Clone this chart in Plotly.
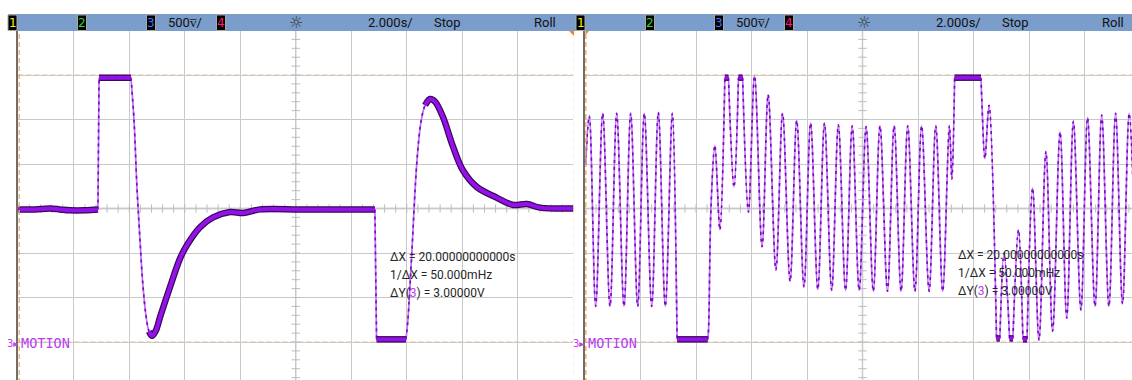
import plotly.graph_objects as go
import numpy as np

W, H = 1132, 380
TOP = 31

# ---------------- data (read from the screen) ----------------
# left capture: channel 3, 0.5 V/div, 2 s/div
left_t = [0.00, 0.60, 1.14, 1.50, 1.86, 2.40, 2.87, 2.91, 4.06, 4.17, 4.28, 4.39, 4.49, 4.60,
          4.71, 4.82, 4.96, 5.11, 5.47, 5.83, 6.08, 6.55, 7.02, 7.63, 8.10, 8.71, 10.15, 11.59,
          12.85, 12.91, 13.97, 14.04, 14.18, 14.36, 14.51, 14.66, 14.84, 15.02, 15.30, 15.66,
          16.02, 16.53, 17.25, 17.83, 18.33, 18.80, 20.00]
left_v = [1.49, 1.49, 1.50, 1.49, 1.48, 1.48, 1.49, 2.97, 2.97, 2.49, 1.71, 1.12, 0.64, 0.30,
          0.12, 0.07, 0.13, 0.28, 0.62, 0.94, 1.09, 1.29, 1.40, 1.46, 1.45, 1.49, 1.49, 1.49,
          1.49, 0.03, 0.03, 0.25, 1.00, 2.01, 2.47, 2.66, 2.73, 2.70, 2.53, 2.20,
          1.93, 1.74, 1.62, 1.54, 1.55, 1.51, 1.50]

# right capture
right_t = [0.02, 0.155, 0.386, 0.638, 0.901, 1.142, 1.405, 1.647, 1.899, 2.137, 2.404, 2.642,
           2.894, 3.146, 3.30, 3.32, 4.42, 4.45, 4.54, 4.68, 4.86, 5.04, 5.17, 5.37, 5.53, 5.68,
           5.89, 6.11, 6.38, 6.60, 6.88, 7.12, 7.39, 7.63, 7.89, 8.13, 8.39, 8.63, 8.89, 9.13,
           9.39, 9.63, 9.88, 10.13, 10.39, 10.63, 10.90, 11.14, 11.39, 11.63, 11.89, 12.13,
           12.40, 12.64, 12.89, 13.13, 13.22, 13.32, 14.27, 14.30, 14.41, 14.56, 14.83, 14.95,
           15.10, 15.30, 15.42, 15.62, 15.78, 15.93, 16.13, 16.36, 16.61, 16.85, 17.12, 17.36,
           17.60, 17.87, 18.11, 18.38, 18.62, 18.88, 19.12, 19.37, 19.61, 19.87]
right_v = [1.99, 2.54, 0.40, 2.57, 0.40, 2.57, 0.40, 2.57, 0.40, 2.57, 0.40, 2.58,
           0.40, 2.57, 0.47, 0.03, 0.03, 0.13, 1.52, 2.21, 1.26, 2.97, 2.97, 1.74, 2.97, 2.97,
           1.46, 2.99, 1.07, 2.78, 0.81, 2.57, 0.68, 2.49, 0.62, 2.46, 0.59, 2.46, 0.58, 2.44,
           0.58, 2.43, 0.58, 2.42, 0.57, 2.43, 0.57, 2.43, 0.57, 2.43, 0.57, 2.43,
           0.57, 2.43, 0.57, 2.43, 1.83, 2.97, 2.97, 2.72, 2.06, 2.66, 0.04, 0.04,
           1.00, 0.04, 0.04, 1.26, 0.03, 0.03, 1.73, 0.02, 2.14, 0.12, 2.36, 0.27,
           2.48, 0.36, 2.52, 0.40, 2.55, 0.40, 2.57, 0.43, 2.57, 0.43]

time_per_div = 2.0
volt_per_div = 0.5
cursor_t = [0.0, 20.0]
cursor_v = [0.0, 3.0]
trace_center_v = 1.5

channel_labels = ["1", "2", "3", "4"]
channel_colors = ["#f4f400", "#2fd82f", "#3a78ff", "#ff1a7a"]
header_scale = "500v\u0305/"
header_time = "2.000s/"
header_state = "Stop"
header_mode = "Roll"
channel_name = "MOTION"
meas_lines = ["\u0394X = 20.00000000000s", "1/\u0394X = 50.000mHz",
              "\u0394Y(<span style='color:#c040f0'>3</span>) = 3.00000V"]

# ---------------- geometry helpers ----------------
def px(x):
    return x / W

def py(y):
    return (H - y) / (H - TOP)

L0, L1 = 18.3, 573.3
R0 = 585.0
PXS = (L1 - L0) / 20.0          # px per second
PXV = 89.0                       # px per volt
y_lo = (342 - H) / PXV
y_hi = (342 - TOP) / PXV
right_span = (W - R0) / PXS


def smooth_runs(t, v):
    """Split the trace at vertical jumps and flat (clipped) stretches so the
    spline only smooths the continuous parts."""
    n = len(t)
    brk = {0, n - 1}
    for i in range(n - 1):
        dt = t[i + 1] - t[i]
        s = abs(v[i + 1] - v[i]) / dt
        if s > 20 or (s < 0.1 and dt > 0.1):
            brk.add(i)
            brk.add(i + 1)
    b = sorted(brk)
    xs, ys = [], []
    for k in range(len(b) - 1):
        if xs:
            xs.append(None)
            ys.append(None)
        xs.extend(t[b[k]:b[k + 1] + 1])
        ys.extend(v[b[k]:b[k + 1] + 1])
    return xs, ys


def slow_segments(t, v, limit=1.2):
    xs, ys = [], []
    last = None
    for i in range(len(t) - 1):
        slope = abs(v[i + 1] - v[i]) / (t[i + 1] - t[i])
        if slope < limit:
            if last != i:
                if xs:
                    xs.append(None)
                    ys.append(None)
                xs.append(t[i])
                ys.append(v[i])
            xs.append(t[i + 1])
            ys.append(v[i + 1])
            last = i + 1
    return xs, ys


fig = go.Figure()

panels = [("x", "y", left_t, left_v), ("x2", "y2", right_t, right_v)]

for xa, ya, t, v in panels:
    # center-line tick marks
    tx = np.arange(0, 20.001, time_per_div / 5)
    fig.add_trace(go.Scatter(x=tx, y=[trace_center_v] * len(tx), mode="markers", xaxis=xa, yaxis=ya,
                             marker=dict(symbol="line-ns", size=6, line=dict(width=1, color="#bdbdbd")),
                             hoverinfo="skip", showlegend=False))
    ty = np.arange(-0.5, 3.501, volt_per_div / 5)
    fig.add_trace(go.Scatter(x=[10.0] * len(ty), y=ty, mode="markers", xaxis=xa, yaxis=ya,
                             marker=dict(symbol="line-ew", size=6, line=dict(width=1, color="#bdbdbd")),
                             hoverinfo="skip", showlegend=False))
    # thin trace
    rx, ry = smooth_runs(t, v)
    fig.add_trace(go.Scatter(x=rx, y=ry, mode="lines", xaxis=xa, yaxis=ya,
                             line=dict(color="#bb72f0", width=1.7, shape="spline", smoothing=1),
                             hoverinfo="skip", showlegend=False))
    fig.add_trace(go.Scatter(x=rx, y=ry, mode="lines", xaxis=xa, yaxis=ya,
                             line=dict(color="#7a06c6", width=1.6, shape="spline", smoothing=1,
                                       dash="3px,4px"),
                             hoverinfo="skip", showlegend=False))
    # thick noisy band on slow parts
    sx, sy = slow_segments(t, v)
    fig.add_trace(go.Scatter(x=sx, y=sy, mode="lines", xaxis=xa, yaxis=ya,
                             line=dict(color="#3a0858", width=6.5, shape="spline", smoothing=1),
                             hoverinfo="skip", showlegend=False))
    fig.add_trace(go.Scatter(x=sx, y=sy, mode="lines", xaxis=xa, yaxis=ya,
                             line=dict(color="#9412ea", width=4, shape="spline", smoothing=1),
                             hoverinfo="skip", showlegend=False))

shapes = []
annotations = []

# center lines + cursors
for xa, ya in [("x", "y"), ("x2", "y2")]:
    shapes.append(dict(type="line", xref=xa, yref=ya, x0=0, x1=20, y0=trace_center_v, y1=trace_center_v,
                       line=dict(color="#d2d2d2", width=2), layer="below"))
    shapes.append(dict(type="line", xref=xa, yref=ya, x0=10, x1=10, y0=-1, y1=4,
                       line=dict(color="#cfcfcf", width=1.5), layer="below"))
    for cv in cursor_v:
        shapes.append(dict(type="line", xref=xa, yref=ya, x0=0, x1=20, y0=cv, y1=cv,
                           line=dict(color="#f6bb7c", width=1.2, dash="5px,3px"), layer="below"))
    for ct in cursor_t:
        shapes.append(dict(type="line", xref=xa, yref=ya, x0=ct + 0.03, x1=ct + 0.03, y0=-1, y1=4,
                           line=dict(color="#f2a95a", width=1.4, dash="5px,3px"), layer="above"))

# header bar
shapes.append(dict(type="rect", xref="paper", yref="paper", x0=px(8), x1=1.0, y0=py(31), y1=py(14),
                   fillcolor="#7b9dcb", line=dict(width=0), layer="above"))

# cursor flags under the header
shapes.append(dict(type="path", xref="paper", yref="paper",
                   path=f"M {px(569)} {py(31)} L {px(574)} {py(31)} L {px(574)} {py(36)} Z",
                   fillcolor="#f08a20", line=dict(width=0), layer="above"))
shapes.append(dict(type="path", xref="paper", yref="paper",
                   path=f"M {px(585.5)} {py(31)} L {px(589)} {py(31)} L {px(585.5)} {py(35)} Z",
                   fillcolor="#f08a20", line=dict(width=0), layer="above"))

hy = py(22.6)
for off in (0, 568):
    box_x = [8, 77.5, 146.5, 216.5]
    for bx, lab, col in zip(box_x, channel_labels, channel_colors):
        shapes.append(dict(type="rect", xref="paper", yref="paper", x0=px(bx + off), x1=px(bx + off + 9),
                           y0=py(30.5), y1=py(15), fillcolor="#000000",
                           line=dict(color="#a8a8a8", width=1), layer="above"))
        annotations.append(dict(x=px(bx + off + 4.5), y=hy, xref="paper", yref="paper", text=lab,
                                showarrow=False, xanchor="center", yanchor="middle",
                                font=dict(family="DejaVu Sans", size=12, color=col)))
    for txt, xx in [(header_scale, 166), (header_time, 366), (header_state, 432), (header_mode, 532)]:
        annotations.append(dict(x=px(xx + off), y=hy, xref="paper", yref="paper", text=txt,
                                showarrow=False, xanchor="left", yanchor="middle",
                                font=dict(family="Roboto", size=13, color="#111111")))
    annotations.append(dict(x=px(296 + off), y=hy, xref="paper", yref="paper", text="\u263c",
                            showarrow=False, xanchor="center", yanchor="middle",
                            font=dict(family="DejaVu Sans", size=16, color="#3a3a3a")))

# channel labels
for mx, lx in [(5, 19), (571, 586)]:
    annotations.append(dict(x=px(mx), y=py(343), xref="paper", yref="paper", text="3\u25b8",
                            showarrow=False, xanchor="left", yanchor="middle",
                            font=dict(family="DejaVu Sans", size=10, color="#c040f0")))
    annotations.append(dict(x=px(lx), y=py(343), xref="paper", yref="paper", text=channel_name,
                            showarrow=False, xanchor="left", yanchor="middle",
                            font=dict(family="DejaVu Sans Mono", size=13.5, color="#b83cf0")))

# measurement text
for mx, my in [(388, 256.5), (955.5, 255)]:
    for i, line in enumerate(meas_lines):
        annotations.append(dict(x=px(mx), y=py(my + 18 * i), xref="paper", yref="paper", text=line,
                                showarrow=False, xanchor="left", yanchor="middle",
                                font=dict(family="Roboto", size=12, color="#262626")))

axis_common = dict(showticklabels=False, ticks="", zeroline=False, showgrid=True,
                   gridcolor="#c9c9c9", gridwidth=1)

fig.update_layout(
    width=W, height=H,
    margin=dict(l=0, r=0, t=TOP, b=0),
    paper_bgcolor="white", plot_bgcolor="white",
    showlegend=False,
    xaxis=dict(domain=[px(L0), px(L1)], range=[0, 20], dtick=time_per_div, tick0=0, **axis_common),
    xaxis2=dict(domain=[px(R0), 1.0], range=[0, right_span], dtick=time_per_div, tick0=0, **axis_common),
    yaxis=dict(domain=[0, 1], range=[y_lo, y_hi], dtick=volt_per_div, tick0=-0.5, anchor="x",
               showline=True, linecolor="#6e6e6e", linewidth=1.5, **axis_common),
    yaxis2=dict(domain=[0, 1], range=[y_lo, y_hi], dtick=volt_per_div, tick0=-0.5, anchor="x2",
                showline=True, linecolor="#6e6e6e", linewidth=1.5, **axis_common),
    shapes=shapes,
    annotations=annotations,
)

fig.write_html("out.html")
